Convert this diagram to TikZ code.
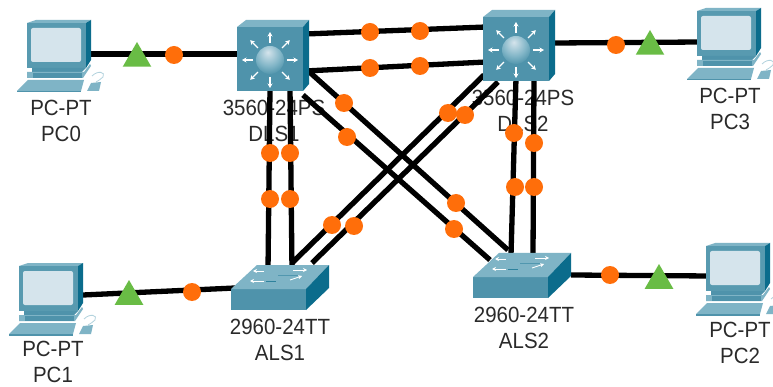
\documentclass[tikz,border=0pt]{standalone}
\usepackage{fontspec}
\setmainfont{Liberation Sans}
\usetikzlibrary{arrows.meta,shapes.geometric,calc}
\definecolor{cfront}{HTML}{4F93AB}
\definecolor{ctop}{HTML}{7FB4C6}
\definecolor{cside}{HTML}{0B6C8C}
\definecolor{cscreen}{HTML}{D5E4EC}
\definecolor{corange}{HTML}{FF6E0A}
\definecolor{cgreen}{HTML}{69BC45}
\definecolor{ctext}{HTML}{2A2A2A}
\definecolor{cball}{HTML}{1A6F8C}
\pgfdeclareradialshading{sphereshade}{\pgfpoint{-4bp}{14bp}}{color(0bp)=(cscreen);color(22bp)=(ctop);color(48bp)=(cball);color(80bp)=(cball)}
\newcommand{\conn}[4]{\draw[link] ([shift={(#2)}]#1.center) -- ([shift={(#4)}]#3.center);}
\tikzset{
  dev/.style={inner sep=0pt,outer sep=0pt,minimum width=60,minimum height=60},
  lab/.style={align=center,text=ctext,font=\fontsize{22}{26.5}\selectfont,xscale=.93,inner sep=0pt,anchor=center},
  link/.style={line width=5.3pt,black},
  dot/.style={circle,fill=corange,inner sep=0pt,minimum size=18pt},
  tri/.style={regular polygon,regular polygon sides=3,fill=cgreen,inner sep=0pt,minimum size=33pt},
  white arrow/.style={white,line width=1.3pt,-{Stealth[length=4.5pt,width=5pt]}},
  thin arrow/.style={white,line width=.9pt,-{Stealth[length=4pt,width=4pt]}},
  pcicon/.pic={
    \begin{scope}[shift={(-61,-56)}]
      \fill[ctop] (27,23) -- (36,20) -- (91,20) -- (86,23) -- cycle;
      \fill[cfront!80!ctop] (27,23) rectangle (86,68);
      \fill[cside] (86,23) -- (91,20) -- (91,60) -- (86,68) -- cycle;
      \fill[cscreen,rounded corners=2pt] (31,28) rectangle (81,62);
      \fill[cfront] (32,68) -- (86,68) -- (82,72) -- (32,72) -- cycle;
      \fill[ctop] (27,72) -- (84,72) -- (90,64) -- (91,66) -- (83,78) -- (27,78) -- cycle;
      \fill[cfront] (33,73) rectangle (82,78);
      \fill[ctop] (17,91) -- (28,80) -- (84,80) -- (81,91) -- cycle;
      \fill[cfront] (17,91) rectangle (81,92.5);
      \fill[ctop] (87,91) -- (91,83) -- (101,82) -- (99,91) -- cycle;
      \draw[ctop!60!white,line width=.8pt] (92,76) .. controls (98,70) and (106,72) .. (103,77) .. controls (101,80) and (98,80) .. (96,82);
    \end{scope}
  },
  mlsicon/.pic={
    \fill[ctop] (-36,-28) -- (-27,-35) -- (36,-35) -- (30,-28) -- cycle;
    \fill[cfront] (-36,-28) rectangle (30,36);
    \fill[cside] (30,-28) -- (36,-35) -- (36,29) -- (30,36) -- cycle;
    \foreach \a in {0,45,...,315}{
      \draw[white arrow] ($(-3,5)+(\a:17)$) -- ($(-3,5)+(\a:28)$);
    }
    \shade[shading=sphereshade] (-3,5) circle (14);
  },
  swicon/.pic={
    \fill[cfront] (-49,1) rectangle (26,22);
    \fill[ctop] (-49,1) -- (-23,-23) -- (49,-23) -- (26,1) -- cycle;
    \fill[cside] (26,1) -- (49,-23) -- (49,0) -- (26,22) -- cycle;
    \draw[thin arrow] (-16,-17) -- (-27,-17);
    \draw[thin arrow] (13,-18) -- (27,-18);
    \draw[thin arrow] (-16,-7) -- (-30,-7);
    \draw[thin arrow] (10,-8) -- (22,-12);
    \draw[cside!70!ctop,line width=1pt] (-14,-7) -- (-4,-7);
    \draw[cside!40!ctop,line width=1pt] (-2,-13) -- (18,-13);
  }
}
\begin{document}
\begin{tikzpicture}[x=1pt,y=-1pt]
\useasboundingbox (0,0) rectangle (773,387);
\clip (0,0) rectangle (773,387);
\fill[white] (0,0) rectangle (773,387);
% device anchors
\node[dev] (pc0) at (61,56) {};
\node[dev] (pc1) at (53,299) {};
\node[dev] (pc2) at (740,279) {};
\node[dev] (pc3) at (731,44) {};
\node[dev] (dls1) at (273,55) {};
\node[dev] (dls2) at (519,45) {};
\node[dev] (als1) at (280,288) {};
\node[dev] (als2) at (522,276) {};
% labels (under the links)
\node[lab] (lpc0) at (61,121) {PC-PT\\PC0};
\node[lab] (lpc3) at (730,109) {PC-PT\\PC3};
\node[lab] (lpc1) at (53,362) {PC-PT\\PC1};
\node[lab] (lpc2) at (740,343) {PC-PT\\PC2};
\node[lab] (ldls1) at (274,121) {3560-24PS\\DLS1};
\node[lab] (ldls2) at (523,111) {3560-24PS\\DLS2};
\node[lab] (lals1) at (280,340) {2960-24TT\\ALS1};
\node[lab] (lals2) at (524,328) {2960-24TT\\ALS2};
% links
\conn{pc0}{30,-2}{dls1}{-33,-1}
\conn{dls2}{36,-2}{pc3}{-31,-2}
\conn{pc1}{30,-4}{als1}{-45,0}
\conn{als2}{49,-1}{pc2}{-30,-3}
\conn{dls1}{32,-21}{dls2}{-33,-18}
\conn{dls1}{32,16}{dls2}{-33,17}
\conn{dls1}{-3,33}{als1}{-12,-18}
\conn{dls1}{17,33}{als1}{12,-18}
\conn{dls2}{-3,33}{als2}{-11,-21}
\conn{dls2}{15,33}{als2}{11,-21}
\conn{dls1}{32,13}{als2}{-14,-26}
\conn{dls1}{30,40}{als2}{-32,-16}
\conn{dls2}{-35,30}{als1}{12,-25}
\conn{dls2}{-21,37}{als1}{32,-25}
% link lights
\foreach \n/\x/\y in {a/174/55,b/270/153,c/290/153,d/270/199,e/290/199,f/344/103,g/347/137,h/370/32,i/420/31,j/370/68,k/420/66,l/448/113,m/465/115,n/332/225,o/354/226,p/456/203,q/454/229,r/514/133,s/534/143,t/515/187,u/534/187,v/616/45,w/192/292,z/610/275}{
  \node[dot] (dot\n) at (\x,\y) {};
}
\node[tri] (t0) at (137,58.5) {};
\node[tri] (t3) at (650,46.5) {};
\node[tri] (t1) at (129,296.5) {};
\node[tri] (t2) at (659,280.5) {};
% device icons
\pic at (pc0.center) {pcicon};
\pic at (pc1.center) {pcicon};
\pic at (pc2.center) {pcicon};
\pic at (pc3.center) {pcicon};
\pic at (dls1.center) {mlsicon};
\pic at (dls2.center) {mlsicon};
\pic at (als1.center) {swicon};
\pic at (als2.center) {swicon};
\end{tikzpicture}
\end{document}
